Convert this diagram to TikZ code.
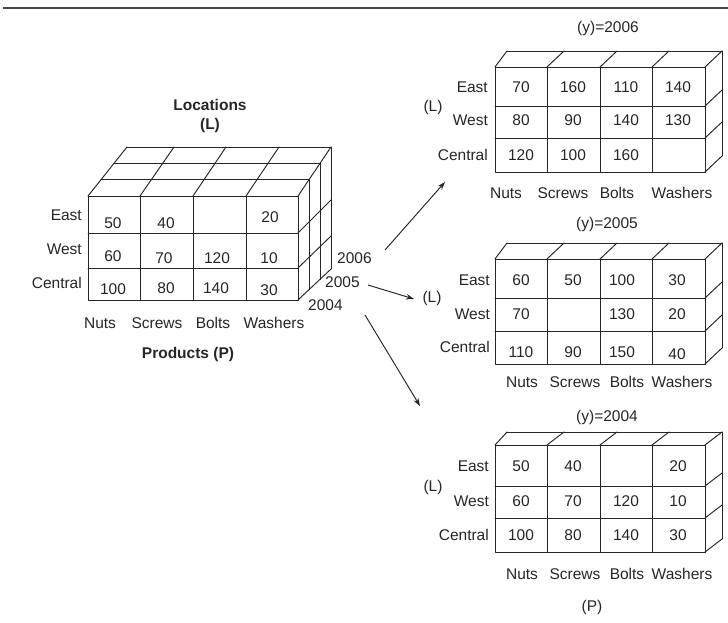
\documentclass[tikz,border=0pt]{standalone}
\usepackage{fontspec}
\setmainfont{Liberation Sans}
\usetikzlibrary{arrows.meta,calc}
\definecolor{ink}{HTML}{262626}

% One single-layer slab on the right: front rows at #1..#4, depth rise #5
\newcommand\drawslab[5]{%
  \draw[grid] (495,#1) rectangle (705,#4);
  \draw[grid] (495,#2) -- (705,#2) (495,#3) -- (705,#3);
  \foreach \x in {547,600,652} \draw[grid] (\x,#1) -- (\x,#4);
  % top face
  \foreach \x/\bx in {495/507,547/564,600/617,652/669,705/722}
    \draw[grid] (\x,#1) -- (\bx,{#1-#5});
  \draw[grid] (507,{#1-#5}) -- (722,{#1-#5});
  % right face
  \draw[grid] (722,{#1-#5}) -- (722,{#4-#5});
  \foreach \y in {#2,#3,#4} \draw[grid] (705,\y) -- (722,{\y-#5});
}

\begin{document}
\begin{tikzpicture}[x=1pt,y=-1pt,
  grid/.style={draw=ink,line width=0.95pt,line join=round,line cap=round},
  txt/.style={font=\fontsize{15.5}{17}\selectfont,text=ink,inner sep=0pt},
  head/.style={font=\fontsize{15.5}{17}\selectfont\bfseries,text=ink,inner sep=0pt},
  link/.style={draw=ink,line width=0.95pt,-{Stealth[length=8pt,width=5.5pt]}}]
\useasboundingbox (0,0) rectangle (728,622);

% rule across the top
\draw[ink!85,line width=1.4pt] (3,8) -- (728,8);

% ---------- three-year cube ----------
\draw[grid] (88,196) rectangle (298,300);
\foreach \y in {233,268} \draw[grid] (88,\y) -- (298,\y);
\foreach \x in {140,193,246} \draw[grid] (\x,196) -- (\x,300);
% top face
\foreach \x/\bx in {88/127,140/174,193/226,246/279,298/331}
  \draw[grid] (\x,196) -- (\bx,147);
\foreach \t in {0.3333,0.6667,1}
  \draw[grid] ($(88,196)!\t!(127,147)$) -- ($(298,196)!\t!(331,147)$);
% right face
\draw[grid] (331,147) -- (331,269);
\foreach \y/\by in {233/200,268/236,300/269}
  \draw[grid] (298,\y) -- (331,\by);
\foreach \t in {0.3333,0.6667}
  \draw[grid] ($(298,196)!\t!(331,147)$) -- ($(298,300)!\t!(331,269)$);

\node[head] (loc) at (210,105) {Locations};
\node[head] (locL) at (210,125) {(L)};
\node[head] (prod) at (188,354) {Products (P)};

\node[txt,anchor=east] (mE) at (82,215) {East};
\node[txt,anchor=east] (mW) at (82,249) {West};
\node[txt,anchor=east] (mC) at (82,283) {Central};

\node[txt] (mN) at (100,323) {Nuts};
\node[txt] (mS) at (157,323) {Screws};
\node[txt] (mB) at (213,323) {Bolts};
\node[txt] (mWa) at (274,323) {Washers};

\node[txt] (m11) at (113,223) {50};
\node[txt] (m12) at (166,223) {40};
\node[txt] (m14) at (270,217) {20};
\node[txt] (m21) at (113,256) {60};
\node[txt] (m22) at (164,258) {70};
\node[txt] (m23) at (217,258) {120};
\node[txt] (m24) at (269,258) {10};
\node[txt] (m31) at (113,289) {100};
\node[txt] (m32) at (166,288) {80};
\node[txt] (m33) at (216,288) {140};
\node[txt] (m34) at (269,290) {30};

\node[txt,anchor=west] (y6) at (337,258) {2006};
\node[txt,anchor=west] (y5) at (325,282) {2005};
\node[txt,anchor=west] (y4) at (308,305) {2004};

% ---------- slab 2006 ----------
\drawslab{67}{106}{138}{172}{16}
\node[txt] (t6) at (608,28) {(y)=2006};
\node[txt] (L6) at (433,107) {(L)};
\node[txt,anchor=east] (E6) at (488,87) {East};
\node[txt,anchor=east] (W6) at (488,120) {West};
\node[txt,anchor=east] (C6) at (488,155) {Central};
\node[txt] (N6) at (506,193) {Nuts};
\node[txt] (S6) at (563,193) {Screws};
\node[txt] (B6) at (617,193) {Bolts};
\node[txt] (Wa6) at (682,193) {Washers};
\node[txt] (a11) at (521,87) {70};
\node[txt] (a12) at (573,87) {160};
\node[txt] (a13) at (626,87) {110};
\node[txt] (a14) at (678,87) {140};
\node[txt] (a21) at (521,120) {80};
\node[txt] (a22) at (573,120) {90};
\node[txt] (a23) at (626,120) {140};
\node[txt] (a24) at (678,120) {130};
\node[txt] (a31) at (521,155) {120};
\node[txt] (a32) at (573,155) {100};
\node[txt] (a33) at (626,155) {160};

% ---------- slab 2005 ----------
\drawslab{259}{298}{331}{364}{16}
\node[txt] (t5) at (607,224) {(y)=2005};
\node[txt] (L5) at (432,298) {(L)};
\node[txt,anchor=east] (E5) at (490,280) {East};
\node[txt,anchor=east] (W5) at (490,314) {West};
\node[txt,anchor=east] (C5) at (490,347) {Central};
\node[txt] (N5) at (522,382) {Nuts};
\node[txt] (S5) at (575,382) {Screws};
\node[txt] (B5) at (627,382) {Bolts};
\node[txt] (Wa5) at (682,382) {Washers};
\node[txt] (b11) at (521,280) {60};
\node[txt] (b12) at (573,280) {50};
\node[txt] (b13) at (622,280) {100};
\node[txt] (b14) at (677,280) {30};
\node[txt] (b21) at (521,314) {70};
\node[txt] (b23) at (622,314) {130};
\node[txt] (b24) at (677,314) {20};
\node[txt] (b31) at (521,352) {110};
\node[txt] (b32) at (573,352) {90};
\node[txt] (b33) at (622,352) {150};
\node[txt] (b34) at (677,354) {40};

% ---------- slab 2004 ----------
\drawslab{445}{486}{518}{552}{13}
\node[txt] (t4) at (607,417) {(y)=2004};
\node[txt] (L4) at (433,487) {(L)};
\node[txt,anchor=east] (E4) at (489,466) {East};
\node[txt,anchor=east] (W4) at (489,501) {West};
\node[txt,anchor=east] (C4) at (489,535) {Central};
\node[txt] (N4) at (522,574) {Nuts};
\node[txt] (S4) at (575,574) {Screws};
\node[txt] (B4) at (627,574) {Bolts};
\node[txt] (Wa4) at (682,574) {Washers};
\node[txt] (P4) at (592,607) {(P)};
\node[txt] (c11) at (521,466) {50};
\node[txt] (c12) at (573,466) {40};
\node[txt] (c14) at (678,466) {20};
\node[txt] (c21) at (521,501) {60};
\node[txt] (c22) at (573,501) {70};
\node[txt] (c23) at (626,501) {120};
\node[txt] (c24) at (678,501) {10};
\node[txt] (c31) at (521,535) {100};
\node[txt] (c32) at (573,535) {80};
\node[txt] (c33) at (626,535) {140};
\node[txt] (c34) at (678,535) {30};

% ---------- arrows from the cube to the slabs ----------
\coordinate (s6) at (385,250);
\coordinate (e6) at (445,182);
\coordinate (s5) at (368,285);
\coordinate (e5) at (414,299);
\coordinate (s4) at (365,315);
\coordinate (e4) at (420,406);
\draw[link] (s6) -- (e6);
\draw[link] (s5) -- (e5);
\draw[link] (s4) -- (e4);
\end{tikzpicture}
\end{document}
